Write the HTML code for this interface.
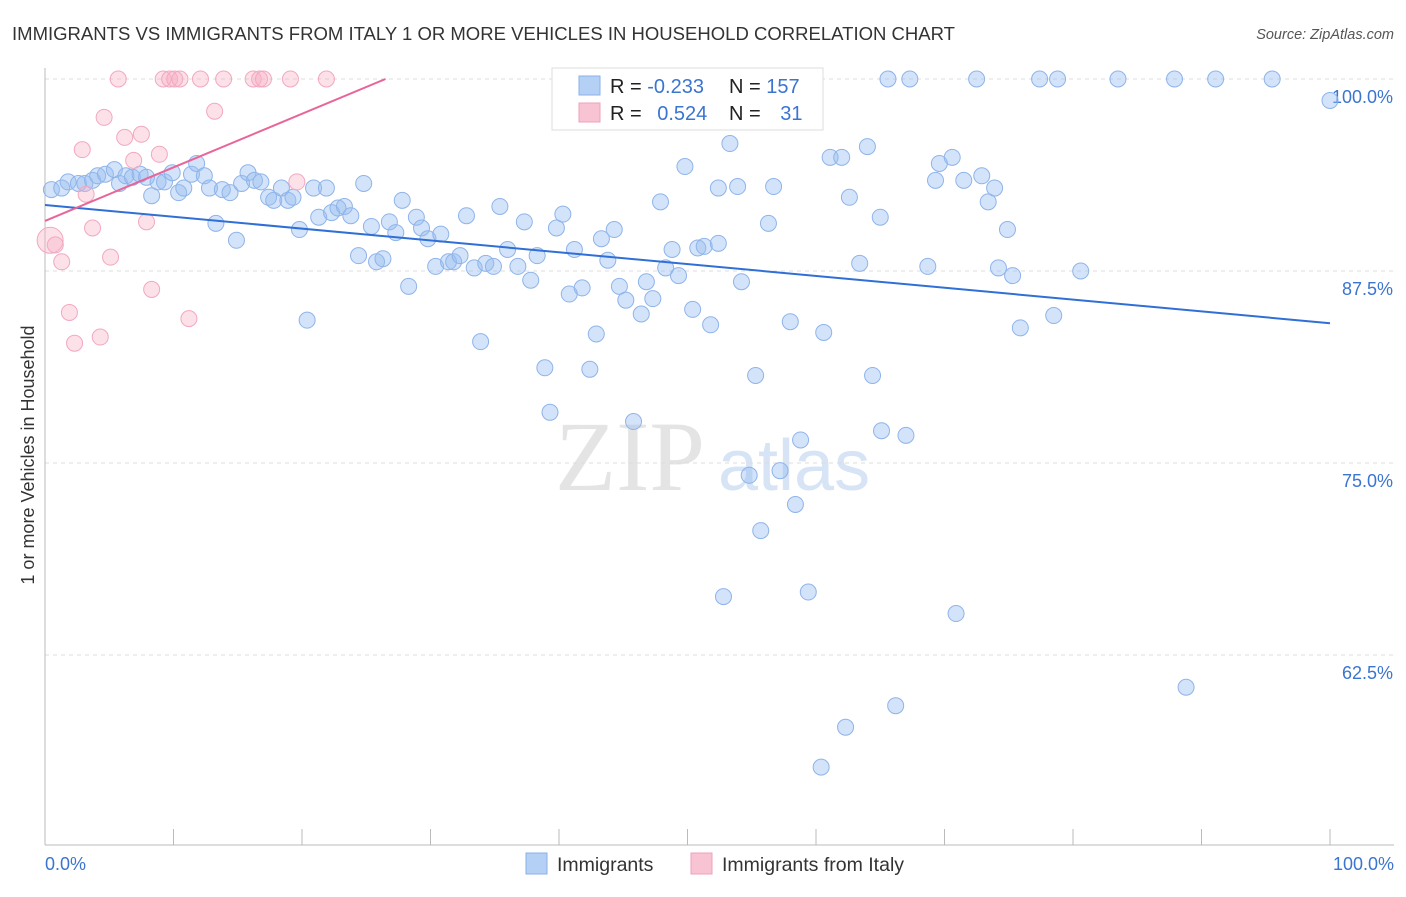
<!DOCTYPE html>
<html><head><meta charset="utf-8"><style>
body{margin:0;background:#fff;font-family:"Liberation Sans",sans-serif;}
</style></head><body>
<svg width="1406" height="892" xmlns="http://www.w3.org/2000/svg">
<text x="12" y="40" font-size="18" fill="#333" textLength="943" lengthAdjust="spacingAndGlyphs">IMMIGRANTS VS IMMIGRANTS FROM ITALY 1 OR MORE VEHICLES IN HOUSEHOLD CORRELATION CHART</text>
<text x="1394" y="39" font-size="14.5" fill="#555" font-style="italic" text-anchor="end">Source: ZipAtlas.com</text>
<text x="555" y="490" font-size="100" fill="#e4e4e4" font-family="Liberation Serif,serif">ZIP</text>
<text x="718" y="490" font-size="72" fill="#d6e4f5">atlas</text>
<g id="grid"></g><g id="axes"></g><g id="pts"></g><g id="lines"></g>
<text transform="translate(34,455) rotate(-90)" font-size="18" fill="#333" text-anchor="middle">1 or more Vehicles in Household</text>
<text x="45" y="870" font-size="18" fill="#3a75d0">0.0%</text>
<text x="1394" y="870" font-size="18" fill="#3a75d0" text-anchor="end">100.0%</text>
<g>
<rect x="552" y="68" width="271" height="62" fill="#fff" stroke="#ddd"/>
<rect x="579" y="76" width="21" height="19" fill="#b5d0f5" stroke="#8ab0e8"/>
<rect x="579" y="103" width="21" height="19" fill="#f8c3d3" stroke="#f0a0bb"/>
<text x="610" y="93" font-size="20" fill="#222">R = <tspan fill="#3a75d0">-0.233</tspan></text>
<text x="729" y="93" font-size="20" fill="#222">N = <tspan fill="#3a75d0">157</tspan></text>
<text x="610" y="120" font-size="20" fill="#222">R = <tspan fill="#3a75d0" dx="10">0.524</tspan></text>
<text x="729" y="120" font-size="20" fill="#222">N = <tspan fill="#3a75d0" dx="14">31</tspan></text>
</g>
<rect x="526" y="853" width="21" height="21" fill="#b5d0f5" stroke="#8ab0e8"/>
<text x="557" y="871" font-size="19.5" fill="#333">Immigrants</text>
<rect x="691" y="853" width="21" height="21" fill="#f8c3d3" stroke="#f0a0bb"/>
<text x="722" y="871" font-size="19.5" fill="#333">Immigrants from Italy</text>
</svg>
<script>
const blueX=[0.5,1.3,1.8,2.6,3.1,3.7,4.1,4.7,5.4,5.8,6.3,6.8,7.4,7.9,8.3,8.8,9.3,9.9,10.4,10.8,11.4,11.8,12.4,12.8,13.3,13.8,14.4,14.9,15.3,15.8,16.3,16.8,17.4,17.8,18.4,18.9,19.3,19.8,20.4,20.9,21.3,21.9,22.3,22.8,23.3,23.8,24.4,24.8,25.4,25.8,26.3,26.8,27.3,27.8,28.3,28.9,29.3,29.8,30.4,30.8,31.4,31.8,32.3,32.8,33.4,33.9,34.3,34.9,35.4,36.0,36.8,37.3,37.8,38.3,38.9,39.3,39.8,40.3,40.8,41.2,41.8,42.4,42.9,43.3,43.8,44.3,44.7,45.2,45.8,46.4,46.8,47.3,47.9,48.3,48.8,49.3,49.8,50.4,50.8,51.3,51.8,52.4,53.3,53.9,54.2,54.8,55.3,55.7,56.3,56.7,57.2,58.0,58.4,58.8,59.4,60.4,60.6,61.1,62.0,62.3,62.6,63.4,64.0,64.4,65.0,65.1,65.6,66.2,67.0,67.3,68.7,69.3,69.6,70.6,70.9,71.5,72.5,72.9,73.4,73.9,74.2,74.9,75.3,75.9,77.4,78.5,78.8,80.6,83.5,87.9,88.8,91.1,95.5,100,52.8,52.4];
const blueY=[92.8,92.9,93.3,93.2,93.2,93.4,93.7,93.8,94.1,93.2,93.7,93.6,93.8,93.6,92.4,93.3,93.3,93.9,92.6,92.9,93.8,94.5,93.7,92.9,90.6,92.8,92.6,89.5,93.2,93.9,93.4,93.3,92.3,92.1,92.9,92.1,92.3,90.2,84.3,92.9,91.0,92.9,91.3,91.6,91.7,91.1,88.5,93.2,90.4,88.1,88.3,90.7,90.0,92.1,86.5,91.0,90.3,89.6,87.8,89.9,88.1,88.1,88.5,91.1,87.7,82.9,88.0,87.8,91.7,88.9,87.8,90.7,86.9,88.5,81.2,78.3,90.3,91.2,86.0,88.9,86.4,81.1,83.4,89.6,88.2,90.2,86.5,85.6,77.7,84.7,86.8,85.7,92.0,87.7,88.9,87.2,94.3,85.0,89.0,89.1,84.0,89.3,95.8,93.0,86.8,74.2,80.7,70.6,90.6,93.0,74.5,84.2,72.3,76.5,66.6,55.2,83.5,94.9,94.9,57.8,92.3,88.0,95.6,80.7,91.0,77.1,100,59.2,76.8,100,87.8,93.4,94.5,94.9,65.2,93.4,100,93.7,92.0,92.9,87.7,90.2,87.2,83.8,100,84.6,100,87.5,100,100,60.4,100,100,98.6,66.3,92.9];
const pinkX=[0.4,0.8,1.3,1.9,2.3,2.9,3.2,3.7,4.3,4.6,5.1,5.7,6.2,6.9,7.5,7.9,8.3,8.9,9.2,9.7,10.1,10.5,11.2,12.1,13.2,13.9,16.2,16.7,17.0,19.1,19.6,21.9];
const pinkY=[89.5,89.2,88.1,84.8,82.8,95.4,92.5,90.3,83.2,97.5,88.4,100,96.2,94.7,96.4,90.7,86.3,95.1,100,100,100,100,84.4,100,97.9,100,100,100,100,100,93.3,100];
const blueTrend=[[0,91.8],[100,84.1]];
const pinkTrend=[[0,90.76],[26.5,100]];
const yTicks=[100,87.5,75,62.5];
const yTickLabels=["100.0%","87.5%","75.0%","62.5%"];
const xTicks=[0,10,20,30,40,50,60,70,80,90,100];

const NS="http://www.w3.org/2000/svg";
const sx=v=>45+v*12.85;
const sy=v=>79+(100-v)*15.36;
function mk(tag,attrs,parent){const e=document.createElementNS(NS,tag);for(const k in attrs)e.setAttribute(k,attrs[k]);document.getElementById(parent).appendChild(e);return e;}
yTicks.forEach((t,i)=>{
  const l=mk('line',{x1:45,x2:1394,y1:sy(t),y2:sy(t),stroke:'#ddd','stroke-dasharray':'4,4'},'grid');
  
  
  const tx=mk('text',{x:1393,y:sy(t)+24,'font-size':18,fill:'#3a75d0','text-anchor':'end'},'grid');
  tx.textContent=yTickLabels[i];
  
  
});
const ax=mk('line',{x1:45,x2:1394,y1:845,y2:845,stroke:'#bbb'},'axes');


const ay=mk('line',{x1:45,x2:45,y1:68,y2:845,stroke:'#bbb'},'axes');


xTicks.forEach(t=>{
  const l=mk('line',{x1:sx(t),x2:sx(t),y1:829,y2:845,stroke:'#bbb'},'axes');
  
  
});
blueX.forEach((x,i)=>{
  const c=mk('circle',{cx:sx(x),cy:sy(blueY[i]),r:8,fill:'rgba(150,188,240,0.42)',stroke:'#8fb4ea','stroke-width':1},'pts');
  
  
});
pinkX.forEach((x,i)=>{
  const c=mk('circle',{cx:sx(x),cy:sy(pinkY[i]),r:i===0?13:8,fill:'rgba(246,175,198,0.38)',stroke:'#f2a8c0','stroke-width':1},'pts');
  
  
});
const bl=mk('line',{x1:sx(blueTrend[0][0]),y1:sy(blueTrend[0][1]),x2:sx(blueTrend[1][0]),y2:sy(blueTrend[1][1]),stroke:'#2f6fd6','stroke-width':2},'lines');


const pl=mk('line',{x1:sx(pinkTrend[0][0]),y1:sy(pinkTrend[0][1]),x2:sx(pinkTrend[1][0]),y2:sy(pinkTrend[1][1]),stroke:'#e8659a','stroke-width':2},'lines');


</script>
</body></html>
